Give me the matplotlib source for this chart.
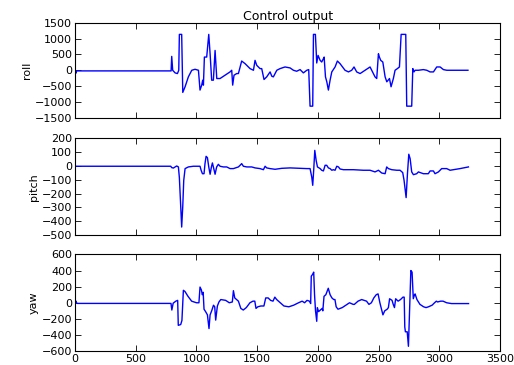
import numpy as np
import matplotlib
matplotlib.use('Agg')
import matplotlib.pyplot as plt

# values (time index, controller output)
roll_t = [0, 5, 14, 791, 796, 804, 824, 843, 854, 859, 878, 887, 906, 933, 961, 988, 1016,
          1029, 1043, 1051, 1057, 1065, 1084, 1101, 1112, 1125, 1139, 1153, 1167, 1194,
          1235, 1276, 1290, 1298, 1309, 1331, 1345, 1372, 1400, 1441, 1469, 1482, 1496,
          1523, 1537, 1556, 1578, 1606, 1620, 1633, 1661, 1688, 1729, 1771, 1798, 1825,
          1853, 1880, 1908, 1924, 1935, 1957, 1963, 1979, 1990, 2001, 2018, 2031, 2045,
          2051, 2062, 2073, 2086, 2100, 2114, 2141, 2160, 2182, 2223, 2251, 2278, 2297,
          2319, 2347, 2388, 2429, 2470, 2484, 2498, 2506, 2517, 2534, 2553, 2567, 2589,
          2602, 2621, 2635, 2654, 2671, 2685, 2723, 2731, 2772, 2781, 2791, 2800, 2827,
          2868, 2896, 2923, 2951, 2978, 3006, 3033, 3061, 3235]
roll = [100, -100, -20, -20, 437, 0, -83, -104, 0, 1130, 1130, -697, -520, -208, 0, 31, 0,
        -624, -468, -312, -468, 416, 416, 1130, 520, -312, -312, 624, -260, -260,
        -156, -52, 0, -468, -156, -104, -104, 291, 208, 52, 0, 312, 156,
        52, 52, -291, -208, -52, -187, -208, 0, 52, 104, 73, 0, -31,
        21, -83, 0, 21, -1130, -1130, 1130, 1130, 229, 468, 312, 260, 364,
        416, -208, -364, -624, -312, -52, 104, 291, 208, 0, -52, 0, 104,
        -52, -104, 0, 104, -208, -260, 520, 416, 312, 260, -208, -364, -260,
        -520, -260, 0, 52, 104, 1130, 1130, -1130, -1130, 52, -52, 0, 0,
        21, 0, -52, -52, 104, 104, 21, 0, 0]

pitch_t = [0, 788, 796, 810, 824, 837, 851, 859, 870, 878, 887, 895, 906, 933, 974, 1029,
           1038, 1049, 1062, 1070, 1079, 1090, 1101, 1112, 1123, 1131, 1139, 1153, 1166,
           1180, 1194, 1221, 1249, 1276, 1304, 1345, 1359, 1372, 1386, 1414, 1455, 1482,
           1523, 1551, 1565, 1578, 1606, 1647, 1702, 1771, 1853, 1908, 1935, 1949, 1957,
           1965, 1974, 1985, 1996, 2018, 2031, 2045, 2059, 2072, 2086, 2100, 2114, 2127,
           2141, 2155, 2169, 2182, 2210, 2292, 2374, 2429, 2470, 2498, 2525, 2553, 2566,
           2580, 2608, 2649, 2676, 2698, 2709, 2726, 2737, 2748, 2759, 2772, 2786, 2813,
           2827, 2868, 2909, 2923, 2951, 2964, 2992, 3019, 3060, 3088, 3115, 3170, 3239]
pitch = [-2, -2, -12, -15, -7, 0, -7, -85, -290, -442, -290, -104, -19, -7, -2, -2,
         -31, -56, -56, 17, 70, 60, -7, -60, -7, 22, -7, -60, -7,
         12, -2, -7, -7, -19, -19, -7, 5, 17, -2, -7, -7, -14,
         -19, -27, -2, -14, -19, -24, -17, -14, -17, -19, -19, -80, -140,
         -31, 113, 41, -7, -19, -31, -36, 5, 5, -14, -19, -31, -27,
         -31, -2, -7, -22, -27, -27, -31, -31, -43, -31, -51, -56, -7,
         -19, -27, -31, -31, -48, -104, -229, -56, 85, 53, -43, -63, -56,
         -43, -56, -56, -36, -36, -56, -43, -19, -19, -31, -27, -19, -7]

yaw_t = [0, 5, 12, 20, 790, 797, 808, 830, 845, 850, 870, 880, 892, 905, 930, 960, 1000,
         1020, 1029, 1040, 1048, 1055, 1062, 1075, 1090, 1103, 1112, 1125, 1140, 1150,
         1158, 1172, 1185, 1200, 1240, 1270, 1295, 1304, 1315, 1330, 1345, 1365, 1385,
         1410, 1440, 1465, 1480, 1490, 1505, 1530, 1555, 1570, 1590, 1610, 1630, 1645,
         1660, 1690, 1720, 1760, 1800, 1840, 1870, 1890, 1910, 1930, 1940, 1945, 1955,
         1965, 1972, 1980, 1990, 1995, 2005, 2020, 2035, 2040, 2050, 2065, 2085, 2100,
         2115, 2130, 2140, 2150, 2165, 2200, 2230, 2260, 2290, 2300, 2330, 2360, 2400,
         2420, 2440, 2460, 2480, 2495, 2510, 2520, 2535, 2550, 2570, 2580, 2590, 2610,
         2620, 2630, 2640, 2660, 2680, 2700, 2710, 2715, 2720, 2735, 2745, 2752, 2758,
         2765, 2775, 2785, 2795, 2800, 2815, 2840, 2870, 2890, 2910, 2940, 2960, 2975,
         2985, 3010, 3030, 3060, 3100, 3240]
yaw = [-20, 25, 0, -8, -8, -90, -5, 20, 30, -280, -270, -220, 155, 140, 80, 20, 0,
       0, 195, 160, 100, 130, -80, -110, -150, -320, -150, -100, -30, -50,
       -215, -40, 10, 40, 30, 0, 10, 150, 60, 40, 20, -70, -90,
       -60, 0, 20, 20, -70, -50, -40, -40, 60, 60, 30, 20, 70,
       40, 0, -40, -50, -30, 0, 20, 0, 30, 20, -10, 330, 350,
       380, 100, -100, -230, -60, -110, -90, -70, -100, 80, 100, 180, 100,
       60, 40, 40, -50, -80, -60, -30, 0, -20, -20, 20, 40, 20,
       -20, 0, 60, 100, 110, 0, -60, -150, -100, -80, -60, 50, 30,
       -20, -60, 50, 20, 40, 70, 70, -300, -360, -360, -540, -200, 100,
       400, 380, 50, 100, 110, 40, -20, -50, -60, -50, -30, 0, 20,
       10, 20, 20, 0, -10, -10]

fig = plt.figure(figsize=(5.14, 3.65), dpi=100)

boxes = [[0.146, 0.677, 0.827, 0.261],
         [0.146, 0.356, 0.827, 0.265],
         [0.146, 0.038, 0.827, 0.265]]
series = [(roll_t, roll, 'roll', (-1500, 1500), 500),
          (pitch_t, pitch, 'pitch', (-500, 200), 100),
          (yaw_t, yaw, 'yaw', (-600, 600), 200)]

for i, (t, v, name, lim, step) in enumerate(series):
    ax = fig.add_axes(boxes[i])
    ax.plot(t, v, color='b', linewidth=1.0)
    ax.set_xlim(0, 3500)
    ax.set_ylim(*lim)
    ax.set_xticks(np.arange(0, 3501, 500))
    ax.set_yticks(np.arange(lim[0], lim[1] + 1, step))
    ax.set_ylabel(name, fontsize=8, labelpad=2)
    ax.tick_params(direction='in', top=True, right=True, labelsize=8,
                   length=4, width=0.6, pad=2)
    for s in ax.spines.values():
        s.set_linewidth(0.8)
    if i < 2:
        ax.set_xticklabels([])
    if i == 0:
        ax.set_title('Control output', fontsize=9, pad=2)

fig.savefig('out.png', dpi=100)
